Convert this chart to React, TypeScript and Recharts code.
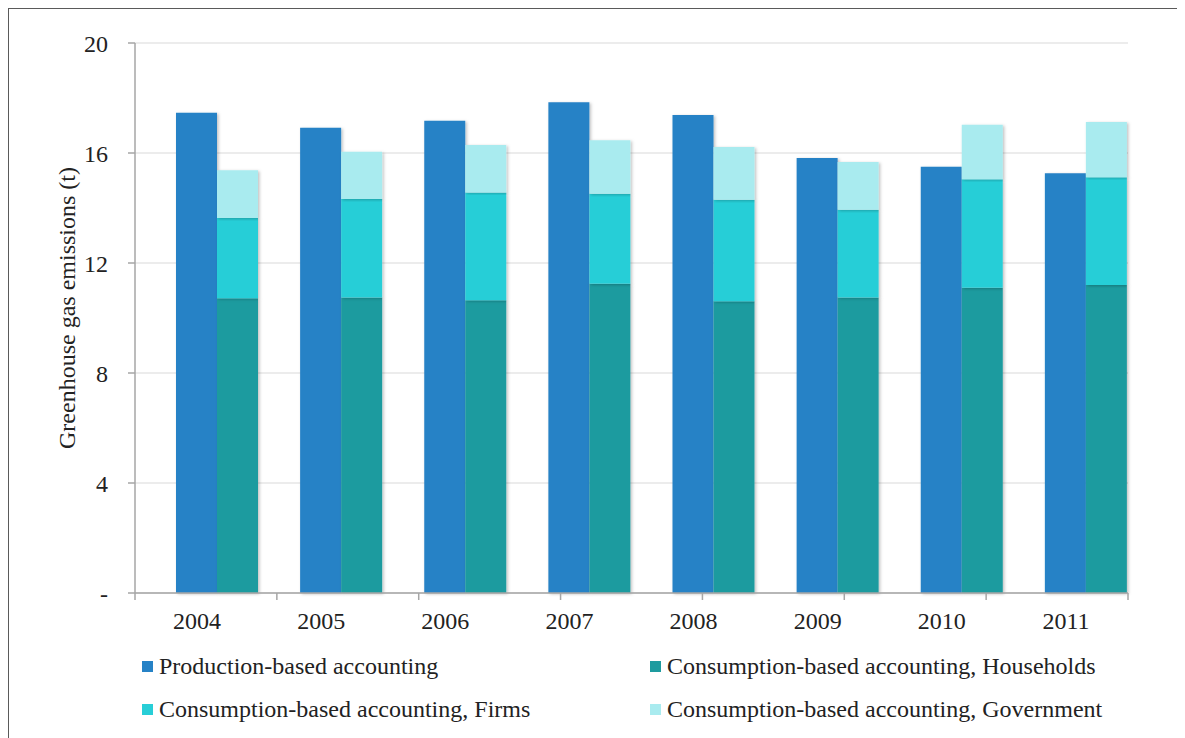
import React from "react";
import { BarChart, Bar, XAxis, YAxis, CartesianGrid, Label } from "recharts";

const years = ["2004", "2005", "2006", "2007", "2008", "2009", "2010", "2011"];
const production = [17.46, 16.92, 17.17, 17.85, 17.38, 15.82, 15.5, 15.26];
const households = [10.72, 10.75, 10.65, 11.25, 10.61, 10.75, 11.1, 11.2];
const firms = [2.92, 3.58, 3.91, 3.27, 3.69, 3.19, 3.95, 3.92];
const government = [1.73, 1.72, 1.73, 1.94, 1.92, 1.73, 1.98, 2.01];
const yTicks = [0, 4, 8, 12, 16, 20];
const boundaryTicks = [0, 1, 2, 3, 4, 5, 6, 7, 8];

const seriesNames = {
  production: "Production-based accounting",
  households: "Consumption-based accounting, Households",
  firms: "Consumption-based accounting, Firms",
  government: "Consumption-based accounting, Government",
};

const COLORS = {
  production: "#2682C6",
  households: "#1E9B9F",
  firms: "#28CED7",
  government: "#A9EBEF",
};

const data = years.map((y, i) => ({
  year: y,
  production: production[i],
  households: households[i],
  firms: firms[i],
  government: government[i],
}));

const FONT = '"Liberation Serif", "Times New Roman", serif';
const TEXT = "#222222";
const AXIS = "#A6A6A6";

const YLabel = (props: any) => {
  const vb = props.viewBox || {};
  const cx = vb.x + vb.width / 2 - 5;
  const cy = vb.y + vb.height / 2 - 10;
  return (
    <text
      x={cx}
      y={cy}
      transform={`rotate(-90, ${cx}, ${cy})`}
      textAnchor="middle"
      dominantBaseline="central"
      fontFamily={FONT}
      fontSize={24}
      fill={TEXT}
    >
      Greenhouse gas emissions (t)
    </text>
  );
};

const legendItems = [
  { key: "production", col: 0, row: 0 },
  { key: "households", col: 1, row: 0 },
  { key: "firms", col: 0, row: 1 },
  { key: "government", col: 1, row: 1 },
];

export default function App() {
  return (
    <div
      style={{
        position: "relative",
        width: 1171,
        height: 740,
        border: "1px solid #5a5a5a",
        marginTop: 0,
        background: "#fff",
        fontFamily: FONT,
      }}
    >
      <BarChart
        width={1171}
        height={634}
        data={data}
        margin={{ top: 34, right: 52, bottom: 0, left: 0 }}
        barCategoryGap={0}
        barGap={0}
      >
        <defs>
          <filter id="barShadow" x="-20%" y="-5%" width="140%" height="110%">
            <feDropShadow dx="1.5" dy="1" stdDeviation="1.5" floodColor="#000" floodOpacity="0.25" />
          </filter>
        </defs>
        <CartesianGrid vertical={false} stroke="#D9D9D9" strokeWidth={1} />
        <XAxis
          xAxisId="bounds"
          type="number"
          domain={[0, 8]}
          ticks={boundaryTicks}
          interval={0}
          tickFormatter={() => ""}
          tick={{ fontSize: 1 }}
          axisLine={{ stroke: AXIS, strokeWidth: 1.5 }}
          tickLine={{ stroke: AXIS, strokeWidth: 1.5 }}
          tickSize={7}
          tickMargin={0}
          height={1}
          allowDataOverflow
        />
        <XAxis
          dataKey="year"
          xAxisId="cat"
          tickLine={false}
          axisLine={false}
          tickSize={6}
          tickMargin={12}
          height={49}
          tick={{ fontFamily: FONT, fontSize: 24, fill: TEXT }}
        />
        <YAxis
          width={126}
          domain={[0, 20]}
          ticks={yTicks}
          interval={0}
          tickFormatter={(v: number) => (v === 0 ? "-" : String(v))}
          tickSize={7}
          tickMargin={20}
          axisLine={{ stroke: AXIS, strokeWidth: 1.5 }}
          tickLine={{ stroke: AXIS, strokeWidth: 1.5 }}
          tick={{ fontFamily: FONT, fontSize: 24, fill: TEXT }}
        >
          <Label content={<YLabel />} position="center" />
        </YAxis>
        <Bar
          xAxisId="cat"
          dataKey={() => 0}
          stackId="pad"
          fill="none"
          legendType="none"
          isAnimationActive={false}
        />
        <Bar
          xAxisId="cat"
          dataKey="production"
          name={seriesNames.production}
          stackId="p"
          fill={COLORS.production}
          filter="url(#barShadow)"
          isAnimationActive={false}
        />
        <Bar
          xAxisId="cat"
          dataKey="households"
          name={seriesNames.households}
          stackId="c"
          fill={COLORS.households}
          filter="url(#barShadow)"
          isAnimationActive={false}
        />
        <Bar
          xAxisId="cat"
          dataKey="firms"
          name={seriesNames.firms}
          stackId="c"
          fill={COLORS.firms}
          filter="url(#barShadow)"
          isAnimationActive={false}
        />
        <Bar
          xAxisId="cat"
          dataKey="government"
          name={seriesNames.government}
          stackId="c"
          fill={COLORS.government}
          filter="url(#barShadow)"
          isAnimationActive={false}
        />
      </BarChart>
      {legendItems.map((it) => {
        const left = it.col === 0 ? 133 : 641;
        const top = it.row === 0 ? 652 : 695;
        return (
          <div key={it.key} style={{ position: "absolute", left, top, height: 30 }}>
            <div
              style={{
                position: "absolute",
                left: 0,
                top: 0,
                width: 11,
                height: 11,
                background: (COLORS as any)[it.key],
              }}
            />
            <div
              style={{
                position: "absolute",
                left: 17,
                top: -8,
                whiteSpace: "nowrap",
                fontSize: 24,
                lineHeight: "27px",
                color: TEXT,
              }}
            >
              {(seriesNames as any)[it.key]}
            </div>
          </div>
        );
      })}
    </div>
  );
}
